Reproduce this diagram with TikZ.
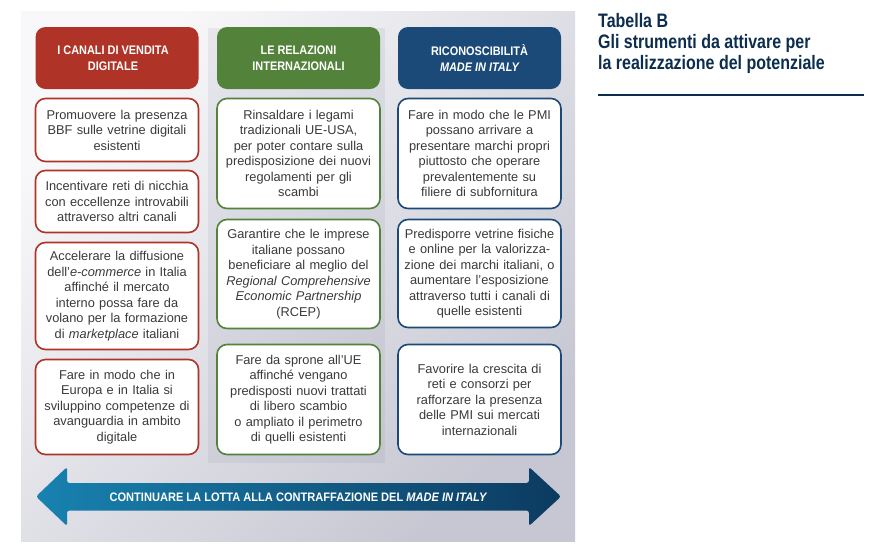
\documentclass[tikz,border=0pt]{standalone}
\usepackage{fontspec}
\setmainfont{Liberation Sans}
\newfontfamily\condfont[FakeStretch=0.88]{Liberation Sans}
\newfontfamily\arrfont[FakeStretch=0.9]{Liberation Sans}
\newfontfamily\titlefont[FakeStretch=0.82]{Liberation Sans}
\definecolor{cred}{RGB}{175,52,39}
\definecolor{cgreen}{RGB}{83,130,58}
\definecolor{cblue}{RGB}{27,74,120}
\definecolor{txt}{RGB}{58,58,58}
\definecolor{ttl}{RGB}{12,45,78}
\definecolor{bgA}{RGB}{248,248,250}
\definecolor{bgB}{RGB}{198,199,210}
\definecolor{strip}{RGB}{110,115,145}
\definecolor{arrL}{RGB}{24,130,176}
\definecolor{arrR}{RGB}{12,58,96}
\tikzset{
  header/.style={rounded corners=10pt, minimum width=163pt, minimum height=62pt,
    inner sep=0pt, text=white, align=center,
    font=\condfont\bfseries\fontsize{12.4}{16}\selectfont},
  itembox/.style={draw, line width=1.6pt, rounded corners=10pt, fill=white,
    minimum width=163pt, inner sep=0pt, text width=160pt, align=center, text=txt,
    font=\fontsize{12.8}{15.5}\selectfont},
}
\begin{document}
\begin{tikzpicture}[x=1pt,y=-1pt]
\useasboundingbox (0,0) rectangle (873,550);
\fill[white] (0,0) rectangle (873,550);
% background panel
\shade[top color=bgA, bottom color=bgB, shading angle=45] (21,11) rectangle (575,541);
% middle strip
\fill[strip, opacity=0.10] (208,28) rectangle (385,463);
% headers
\node[header, fill=cred] (h1) at (117,58) {\hspace*{-8pt}I CANALI DI VENDITA\\\hspace*{-8pt}DIGITALE};
\node[header, fill=cgreen] (h2) at (298.5,58) {LE RELAZIONI\\INTERNAZIONALI};
\node[header, fill=cblue] (h3) at (479.5,58) {RICONOSCIBILITÀ\\\itshape MADE IN ITALY};
% red column
\node[itembox, draw=cred, minimum height=63pt] (r1) at (117,130) {Promuovere la presenza\\BBF sulle vetrine digitali\\esistenti};
\node[itembox, draw=cred, minimum height=62pt] (r2) at (117,201.5) {Incentivare reti di nicchia\\con eccellenze introvabili\\attraverso altri canali};
\node[itembox, draw=cred, minimum height=107pt] (r3) at (117,296) {Accelerare la diffusione\\dell’\textit{e-commerce} in Italia\\affinché il mercato\\interno possa fare da\\volano per la formazione\\di \textit{marketplace} italiani};
\node[itembox, draw=cred, minimum height=95pt] (r4) at (117,407) {Fare in modo che in\\Europa e in Italia si\\sviluppino competenze di\\avanguardia in ambito\\digitale};
% green column
\node[itembox, draw=cgreen, minimum height=110pt] (g1) at (298.5,153.5) {Rinsaldare i legami\\tradizionali UE-USA,\\per poter contare sulla\\predisposizione dei nuovi\\regolamenti per gli\\scambi};
\node[itembox, draw=cgreen, minimum height=109pt] (g2) at (298.5,274) {Garantire che le imprese\\italiane possano\\beneficiare al meglio del\\\textit{Regional Comprehensive}\\\textit{Economic Partnership}\\(RCEP)};
\node[itembox, draw=cgreen, minimum height=110pt] (g3) at (298.5,399.5) {Fare da sprone all’UE\\affinché vengano\\predisposti nuovi trattati\\di libero scambio\\o ampliato il perimetro\\di quelli esistenti};
% blue column
\node[itembox, draw=cblue, minimum height=110pt] (b1) at (479.5,153.5) {Fare in modo che le PMI\\possano arrivare a\\presentare marchi propri\\piuttosto che operare\\prevalentemente su\\filiere di subfornitura};
\node[itembox, draw=cblue, minimum height=108pt] (b2) at (479.5,273.5) {Predisporre vetrine fisiche\\e online per la valorizza-\\zione dei marchi italiani, o\\aumentare l’esposizione\\attraverso tutti i canali di\\quelle esistenti};
\node[itembox, draw=cblue, minimum height=110pt] (b3) at (479.5,399.5) {Favorire la crescita di\\reti e consorzi per\\rafforzare la presenza\\delle PMI sui mercati\\internazionali};
% double arrow
\shade[left color=arrL, right color=arrR, rounded corners=2.5pt]
  (36,496.5) -- (67,467) -- (67,483) -- (529,483) -- (529,467) -- (561,496.5)
  -- (529,526) -- (529,510.5) -- (67,510.5) -- (67,526) -- cycle;
\node[text=white, font=\arrfont\bfseries\fontsize{12.3}{14}\selectfont] (arrtext) at (298.5,497)
  {CONTINUARE LA LOTTA ALLA CONTRAFFAZIONE DEL \textit{MADE IN ITALY}};
% title
\node[anchor=base west, inner sep=0pt, text=ttl, align=left,
  font=\titlefont\bfseries\fontsize{19.5}{21}\selectfont] (title) at (598,69)
  {Tabella B\\Gli strumenti da attivare per\\la realizzazione del potenziale};
\draw[ttl, line width=2.2pt] (598,94.7) -- (864,94.7);
\end{tikzpicture}
\end{document}
